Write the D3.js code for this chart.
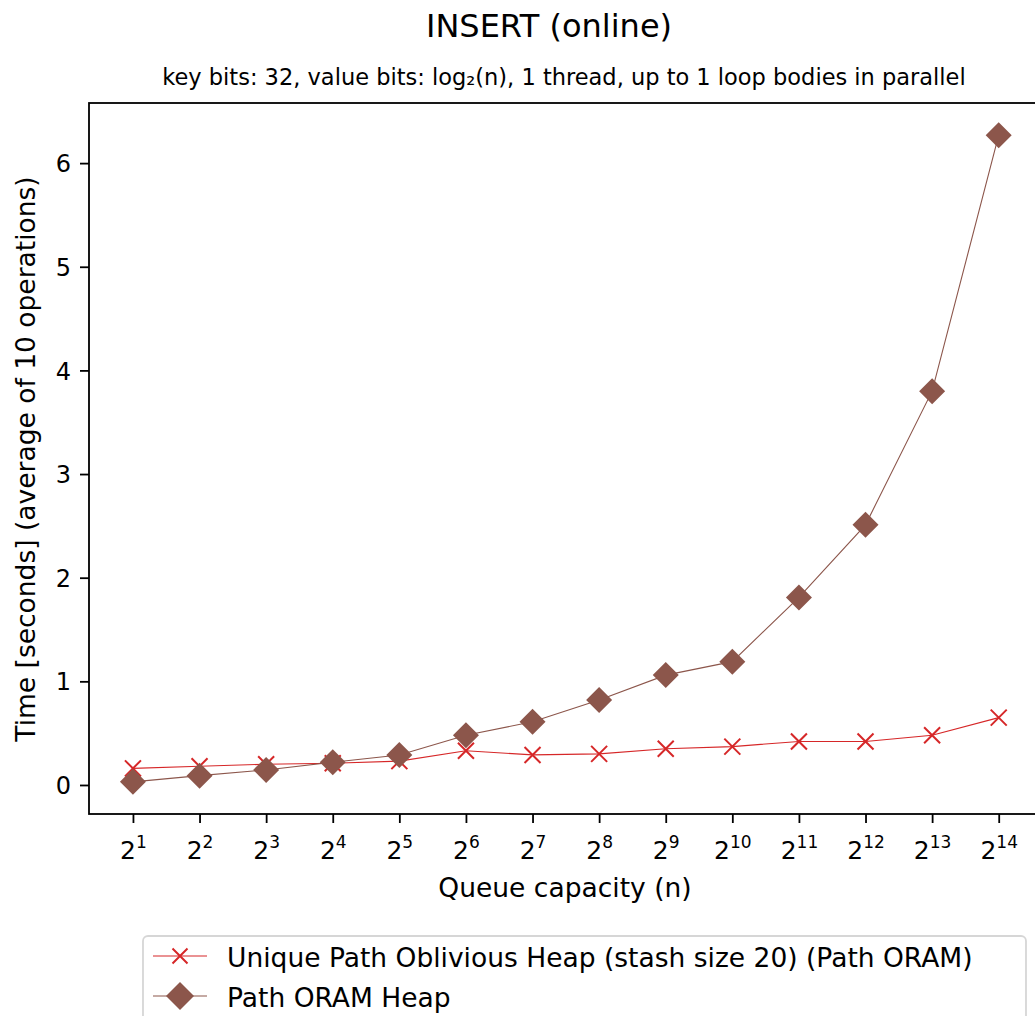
<!DOCTYPE html>
<html lang="en">
<head>
<meta charset="utf-8">
<title>INSERT (online)</title>
<script src="https://cdn.jsdelivr.net/npm/d3@7"></script>
<style>
  body { margin: 0; background: white; }
  text { font-family: "DejaVu Sans", sans-serif; fill: #000; }
  .tick_text { font-size: 24px; font-family: "DejaVu Sans", sans-serif; }
  .legend_text { font-size: 26.5px; }
</style>
</head>
<body>
<div id="chart"></div>
<script>
// exponents of the queue capacity (n = 2^k)
var exponents = [1, 2, 3, 4, 5, 6, 7, 8, 9, 10, 11, 12, 13, 14];
var uniquePathHeap = [0.16, 0.18, 0.20, 0.21, 0.23, 0.33, 0.29, 0.30, 0.35, 0.37, 0.42, 0.42, 0.48, 0.65];
var pathOramHeap = [0.03, 0.09, 0.145, 0.22, 0.29, 0.48, 0.61, 0.82, 1.06, 1.19, 1.81, 2.51, 3.80, 6.27];
var yTicks = [0, 1, 2, 3, 4, 5, 6];
var seriesNames = ["Unique Path Oblivious Heap (stash size 20) (Path ORAM)", "Path ORAM Heap"];

var W = 1035, H = 1016;
var margin = {left: 89, top: 103, right: 1042, bottom: 814};

var svg = d3.select("#chart").append("svg")
  .attr("width", W).attr("height", H);

var x = d3.scaleLinear().domain([0.34, 14.65]).range([margin.left, margin.right]);
var y = d3.scaleLinear().domain([-0.28, 6.58]).range([margin.bottom, margin.top]);

// title and subtitle
svg.append("text").attr("x", 549).attr("y", 37).attr("text-anchor", "middle")
  .style("font-size", "32px").text("INSERT (online)");
svg.append("text").attr("x", 564).attr("y", 85).attr("text-anchor", "middle")
  .style("font-size", "22.5px")
  .text("key bits: 32, value bits: log\u2082(n), 1 thread, up to 1 loop bodies in parallel");

// y axis
var yAxis = svg.append("g").attr("transform", "translate(" + margin.left + ",0)")
  .call(d3.axisLeft(y).tickValues(yTicks).tickSize(9).tickPadding(9).tickFormat(d3.format("d")));
yAxis.select(".domain").remove();
yAxis.selectAll("line").attr("stroke", "#000").attr("stroke-width", 1.8);
yAxis.selectAll("text").attr("class", "tick_text").attr("dy", "0.36em");

// x axis with superscript labels
var xAxis = svg.append("g").attr("transform", "translate(0," + margin.bottom + ")")
  .call(d3.axisBottom(x).tickValues(exponents).tickSize(9).tickPadding(6).tickFormat(""));
xAxis.select(".domain").remove();
xAxis.selectAll("line").attr("stroke", "#000").attr("stroke-width", 1.8);
xAxis.selectAll(".tick").each(function(d) {
  var t = d3.select(this).append("text").attr("class", "tick_text")
    .attr("y", 45).attr("text-anchor", "middle");
  t.append("tspan").style("font-size", "25px").text("2");
  t.append("tspan").attr("dy", -11).style("font-size", "17px").text(d);
});

// axes frame
svg.append("rect").attr("x", margin.left).attr("y", margin.top)
  .attr("width", margin.right - margin.left).attr("height", margin.bottom - margin.top)
  .attr("fill", "none").attr("stroke", "#000").attr("stroke-width", 1.8);

// axis labels
svg.append("text").attr("x", 565).attr("y", 897).attr("text-anchor", "middle")
  .style("font-size", "26.5px").text("Queue capacity (n)");
svg.append("text").attr("transform", "translate(35," + 459 + ") rotate(-90)")
  .attr("text-anchor", "middle").style("font-size", "26.5px")
  .text("Time [seconds] (average of 10 operations)");

var red = "#d62728", brown = "#8c564b";
var line = d3.line().x(function(d) { return x(d[0]); }).y(function(d) { return y(d[1]); });

function xMark(g, cx, cy, s) {
  g.append("path").attr("d", "M" + (cx - s) + "," + (cy - s) + "L" + (cx + s) + "," + (cy + s) +
    "M" + (cx - s) + "," + (cy + s) + "L" + (cx + s) + "," + (cy - s))
    .attr("stroke", red).attr("stroke-width", 2).attr("fill", "none");
}
function diamond(g, cx, cy, s) {
  g.append("path").attr("d", "M" + cx + "," + (cy - s) + "L" + (cx + s) + "," + cy +
    "L" + cx + "," + (cy + s) + "L" + (cx - s) + "," + cy + "Z").attr("fill", brown);
}

var redData = exponents.map(function(e, i) { return [e, uniquePathHeap[i]]; });
var brownData = exponents.map(function(e, i) { return [e, pathOramHeap[i]]; });

var plot = svg.append("g");
plot.append("path").datum(redData).attr("d", line).attr("fill", "none")
  .attr("stroke", red).attr("stroke-width", 1.1);
redData.forEach(function(d) { xMark(plot, x(d[0]), y(d[1]), 8); });
plot.append("path").datum(brownData).attr("d", line).attr("fill", "none")
  .attr("stroke", brown).attr("stroke-width", 1.1);
brownData.forEach(function(d) { diamond(plot, x(d[0]), y(d[1]), 13); });

// legend
var lg = svg.append("g");
lg.append("rect").attr("x", 143).attr("y", 936).attr("width", 883).attr("height", 110)
  .attr("rx", 5).attr("fill", "white").attr("stroke", "#d6d6d6").attr("stroke-width", 1.8);
var rows = [956, 996];
lg.append("line").attr("x1", 153).attr("x2", 207).attr("y1", rows[0]).attr("y2", rows[0])
  .attr("stroke", red).attr("stroke-width", 1.1);
xMark(lg, 180, rows[0], 7.5);
lg.append("line").attr("x1", 153).attr("x2", 207).attr("y1", rows[1]).attr("y2", rows[1])
  .attr("stroke", brown).attr("stroke-width", 1.1);
diamond(lg, 180, rows[1], 14);
seriesNames.forEach(function(n, i) {
  lg.append("text").attr("class", "legend_text").attr("x", 227).attr("y", rows[i] + 11).text(n);
});
</script>
</body>
</html>
